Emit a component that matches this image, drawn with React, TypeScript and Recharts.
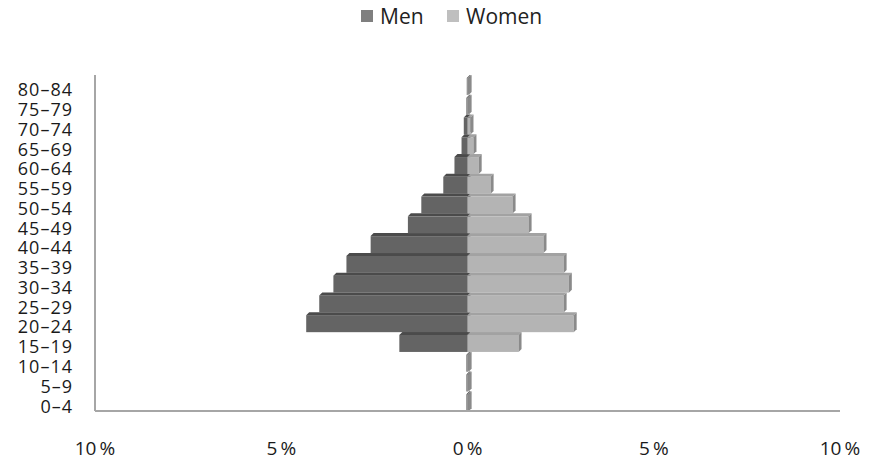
import { Bar, BarChart, XAxis, YAxis } from 'recharts';

const ageGroups = ['0–4', '5–9', '10–14', '15–19', '20–24', '25–29', '30–34', '35–39', '40–44', '45–49', '50–54', '55–59', '60–64', '65–69', '70–74', '75–79', '80–84'];
const menShare = [0.03, 0.03, 0.03, 1.83, 4.33, 3.98, 3.6, 3.25, 2.6, 1.6, 1.24, 0.65, 0.35, 0.16, 0.1, 0.03, 0.02];
const womenShare = [0.03, 0.03, 0.03, 1.37, 2.85, 2.58, 2.72, 2.58, 2.04, 1.64, 1.21, 0.62, 0.3, 0.16, 0.08, 0.03, 0.03];
const xTicks = [-10, -5, 0, 5, 10];

const data = ageGroups.map((age, i) => ({ age, men: -menShare[i], women: womenShare[i] }));

const FONT = '"Open Sans", sans-serif';
const DEPTH = 3;

// flat bar with a fake 3d top and right side, like the old office charts
function make3dBar(face: string, top: string, side: string) {
  return (props: any) => {
    let { x, y, width, height } = props;
    if (width < 0) {
      x += width;
      width = -width;
    }
    const d = DEPTH;
    return (
      <g>
        <rect x={x} y={y + d} width={width} height={height - d} fill={face} />
        <polygon
          points={`${x},${y + d} ${x + d},${y} ${x + width + d},${y} ${x + width},${y + d}`}
          fill={top}
        />
        <polygon
          points={`${x + width},${y + d} ${x + width + d},${y} ${x + width + d},${y + height - d} ${x + width},${y + height}`}
          fill={side}
        />
      </g>
    );
  };
}

function AgeTick(props: any) {
  const { x, y, payload } = props;
  return (
    <text
      x={x + 1}
      y={y + 5}
      dy="0.355em"
      textAnchor="end"
      fontSize={18}
      fontFamily={FONT}
      fill="#1a1a1a"
      letterSpacing={1}
    >
      {payload.value}
    </text>
  );
}

function LegendBox() {
  const square = (color: string) => (
    <span style={{ width: 12, height: 12, background: color, marginRight: 7, display: 'inline-block' }} />
  );
  return (
    <div
      style={{
        position: 'absolute',
        top: 2,
        left: 361,
        display: 'flex',
        alignItems: 'center',
        fontFamily: FONT,
        fontSize: 21,
        color: '#222',
        whiteSpace: 'nowrap',
      }}
    >
      <span style={{ display: 'inline-flex', alignItems: 'center', width: 86 }}>
        {square('#7f7f7f')}
        Men
      </span>
      <span style={{ display: 'inline-flex', alignItems: 'center' }}>
        {square('#bfbfbf')}
        Women
      </span>
    </div>
  );
}

export default function App() {
  return (
    <div style={{ position: 'absolute', top: 0, left: 0, width: 874, height: 469, background: '#fff' }}>
      <LegendBox />
      <BarChart
        width={874}
        height={469}
        data={data}
        layout="vertical"
        stackOffset="sign"
        barCategoryGap={0}
        margin={{ top: 75, right: 34, bottom: 0, left: 0 }}
      >
        <XAxis
          type="number"
          domain={[-10, 10]}
          ticks={xTicks}
          tickFormatter={(v: number) => `${Math.abs(v)}\u2009%`}
          height={58}
          axisLine={{ stroke: '#a6a6a6', strokeWidth: 2 }}
          tickLine={false}
          tickMargin={25}
          tick={{ fontSize: 19, fill: '#1a1a1a', fontFamily: FONT }}
        />
        <YAxis
          type="category"
          dataKey="age"
          reversed
          width={95}
          interval={0}
          axisLine={{ stroke: '#a6a6a6', strokeWidth: 2 }}
          tickLine={false}
          tickMargin={17}
          tick={<AgeTick />}
        />
        <Bar dataKey="men" stackId="p" isAnimationActive={false} shape={make3dBar('#646464', '#4b4b4b', '#3f3f3f')} />
        <Bar dataKey="women" stackId="p" isAnimationActive={false} shape={make3dBar('#b4b4b4', '#a2a2a2', '#8a8a8a')} />
      </BarChart>
    </div>
  );
}
